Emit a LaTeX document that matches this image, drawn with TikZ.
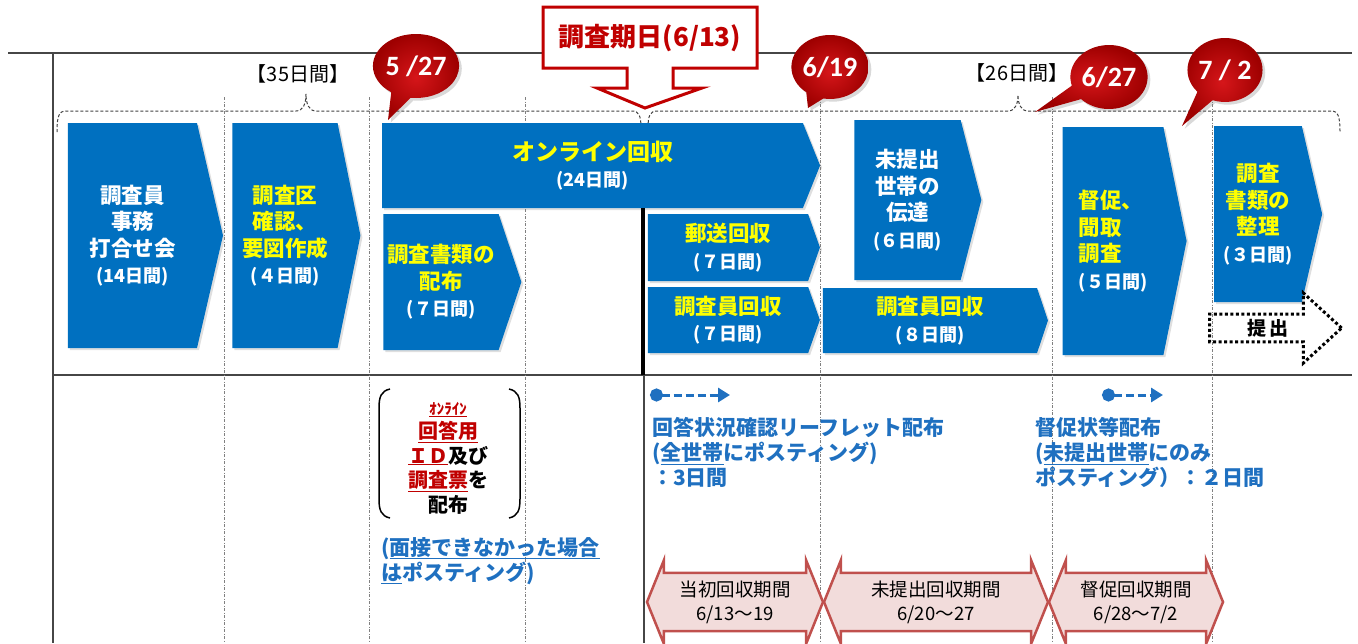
\documentclass[tikz,border=0pt]{standalone}
\usepackage{fontspec}
\setmainfont{Noto Sans CJK JP}
\newfontfamily\datefont{Carlito}
\usepackage{tikz}
\usetikzlibrary{shapes.arrows, shapes.callouts, shadows, arrows.meta}

\definecolor{stageblue}{RGB}{0,112,192}
\definecolor{stageyellow}{RGB}{255,255,0}
\definecolor{datered}{RGB}{192,0,0}
\definecolor{datelight}{RGB}{214,22,26}
\definecolor{datedark}{RGB}{158,0,0}
\definecolor{noteblue}{RGB}{31,112,192}
\definecolor{periodfill}{RGB}{242,220,219}
\definecolor{periodline}{RGB}{192,80,77}
\definecolor{framegray}{RGB}{70,70,70}
\newcommand{\yel}[1]{\textcolor{stageyellow}{#1}}
\newcommand{\dur}[1]{{\fontsize{18}{26.5}\selectfont #1}}
\newcommand{\redul}[1]{\textcolor{datered}{\underline{#1}}}

\begin{document}
\begin{tikzpicture}[x=1pt, y=-1pt,
    frame/.style={framegray, line width=2},
    guide/.style={gray, line width=0.8, dash pattern=on 3pt off 1.5pt on 1pt off 1.5pt},
    brace/.style={black!75, line width=1, dash pattern=on 3pt off 2pt},
    stage/.style={signal, signal from=nowhere, signal to=east, fill=stageblue, text=white, align=center,
      inner sep=0pt, font=\fontsize{21.5}{26.5}\selectfont\bfseries,
      drop shadow={opacity=0.25, shadow xshift=2pt, shadow yshift=-2pt}},
    datemark/.style={ellipse callout, inner color=datelight, outer color=datedark, text=white,
      minimum size=64, inner sep=0pt, callout pointer arc=28,
      font=\datefont\fontsize{28}{28}\selectfont\bfseries, drop shadow={opacity=0.3}},
    note/.style={text=noteblue, align=left, inner sep=0pt, font=\fontsize{21}{25}\selectfont\bfseries},
    leafarrow/.style={noteblue, line width=3, dash pattern=on 8pt off 4pt,
      {Circle[length=13pt]}-{Triangle[length=12pt, width=14pt]}},
    period/.style={double arrow, draw=periodline, fill=periodfill, line width=2.5,
      double arrow head extend=10, double arrow tip angle=136, minimum width=84,
      inner sep=0pt, align=center, font=\fontsize{18.5}{24}\selectfont}]
  \useasboundingbox (0,0) rectangle (1358,643);
  \clip (0,0) rectangle (1358,643);

  % Frame
  \draw[frame] (8,53) -- (1352,53);
  \draw[frame] (53,53) -- (53,643);
  \draw[frame] (53,375) -- (1352,375);
  \draw[frame, line width=1.5] (644,375) -- (644,643);
  \foreach \x in {224,369,525,820,1052,1212}
    \draw[guide] (\x,97) -- (\x,643);

  % Braces
  \draw[brace] (57,132) .. controls (57,116) and (59,111) .. (66,111) -- (296,111)
    .. controls (303,111) and (306,104) .. (306,94) .. controls (306,104) and (309,111) .. (316,111)
    -- (632,111) .. controls (639,111) and (641,116) .. (641,128);
  \draw[brace] (648,128) .. controls (648,116) and (650,111) .. (657,111) -- (1008,111)
    .. controls (1015,111) and (1018,104) .. (1018,95) .. controls (1018,104) and (1021,111) .. (1028,111)
    -- (1331,111) .. controls (1338,111) and (1340,116) .. (1340,132);
  \node[font=\fontsize{20}{20}\selectfont] (span35) at (298,74) {【35日間】};
  \node[font=\fontsize{20}{20}\selectfont] (span26) at (1017,73) {【26日間】};

  % Stages
  \node[stage, minimum width=155, minimum height=225, signal pointer angle=154] (meeting) at (132.5,235.5)
    {調査員\\事務\\打合せ会\\\dur{(14日間)}};
  \node[stage, minimum width=128, minimum height=225, signal pointer angle=157] (areacheck) at (285,235.5)
    {\yel{調査区}\\\yel{確認、}\\\yel{要図作成}\\\dur{(４日間)}};
  \node[stage, minimum width=438, minimum height=85, signal pointer angle=136] (online) at (592.5,165.5)
    {\yel{\fontsize{23}{26.5}\selectfont オンライン回収}\\\dur{(24日間)}};
  \node[stage, minimum width=138, minimum height=136, signal pointer angle=143] (distrib) at (441,282)
    {\yel{調査書類の}\\\yel{配布}\\\dur{(７日間)}};
  \node[stage, minimum width=172, minimum height=67, signal pointer angle=141] (mail) at (728,247.5)
    {\yel{郵送回収}\\\dur{(７日間)}};
  \node[stage, minimum width=172, minimum height=66, signal pointer angle=141] (visit7) at (728,320)
    {\yel{調査員回収}\\\dur{(７日間)}};
  \node[stage, minimum width=225, minimum height=65, signal pointer angle=143] (visit8) at (930,320.5)
    {\yel{調査員回収}\\\dur{(８日間)}};
  \node[stage, minimum width=127, minimum height=160, signal pointer angle=151] (notify) at (907.5,200)
    {未提出\\世帯の\\伝達\\\dur{(６日間)}};
  \node[stage, minimum width=124, minimum height=228, signal pointer angle=157, align=left] (reminder) at (1113,241)
    {\yel{督促、}\\\yel{聞取}\\\yel{調査}\\\dur{(５日間)}};
  \node[stage, minimum width=108, minimum height=176, signal pointer angle=154] (arrange) at (1258,214)
    {\yel{調査}\\\yel{書類の}\\\yel{整理}\\\dur{(３日間)}};
  \node[single arrow, draw=black, line width=3, dash pattern=on 3pt off 2.5pt, minimum height=132,
    minimum width=70, single arrow head extend=16, single arrow tip angle=85, inner sep=0pt,
    font=\fontsize{19}{19}\selectfont\bfseries] (submit) at (1268,328) {提\,出};
  \draw[black, line width=3.5] (online.south -| 643,0) -- (643,375);

  % Survey day
  \draw[datered, line width=3, fill=white] (543,7) -- (757,7) -- (757,68) -- (673,68) -- (673,88)
    -- (702,88) -- (645,108) -- (597,88) -- (627,88) -- (627,68) -- (543,68) -- cycle;
  \node[text=datered, font=\fontsize{26}{26}\selectfont\bfseries] (surveyday) at (650,38) {調査期日(6/13)};

  % Dates
  \node[datemark, callout absolute pointer={(388,120)}] (d0527) at (416,66) {5 /27};
  \node[datemark, callout absolute pointer={(808,108)}] (d0619) at (830,67) {6/19};
  \node[datemark, callout absolute pointer={(1035,112)}] (d0627) at (1109,77) {6/27};
  \node[datemark, callout absolute pointer={(1182,126)}] (d0702) at (1225,70) {7 / 2};

  % Notes
  \draw[line width=1.5] (390,389) .. controls (381,391) and (379,397) .. (379,408) -- (379,499)
    .. controls (379,510) and (381,516) .. (390,518);
  \draw[line width=1.5] (509,389) .. controls (518,391) and (520,397) .. (520,408) -- (520,499)
    .. controls (520,510) and (518,516) .. (509,518);
  \node[align=center, inner sep=0pt, font=\fontsize{20}{24.5}\selectfont\bfseries] (idnote) at (448,458)
    {\redul{\fontsize{15}{15}\selectfont ｵﾝﾗｲﾝ}\\\redul{回答用}\\\redul{ＩＤ}及び\\\redul{調査票}を\\配布};
  \node[note, anchor=north west] (postnote) at (381,537)
    {(\underline{面接できなかった場合}\\\underline{は}ポスティング)};

  \coordinate (leafA) at (650,395);
  \coordinate (leafB) at (730,395);
  \draw[leafarrow] (leafA) -- (leafB);
  \node[note, anchor=north west] (leaflet) at (652,417)
    {回答状況確認リーフレット配布\\(\underline{全世帯}にポスティング)\\：3日間};
  \coordinate (remindA) at (1102,395);
  \coordinate (remindB) at (1163,395);
  \draw[leafarrow] (remindA) -- (remindB);
  \node[note, anchor=north west] (remindnote) at (1035,417)
    {督促状等配布\\(\underline{未提出世帯}にのみ\\ポスティング）：２日間};

  % Periods
  \node[period, minimum height=176] (initial) at (735,602) {当初回収期間\\6/13～19};
  \node[period, minimum height=224] (unsubmitted) at (936,602) {未提出回収期間\\6/20～27};
  \node[period, minimum height=174] (urged) at (1136,602) {督促回収期間\\6/28～7/2};
\end{tikzpicture}
\end{document}
